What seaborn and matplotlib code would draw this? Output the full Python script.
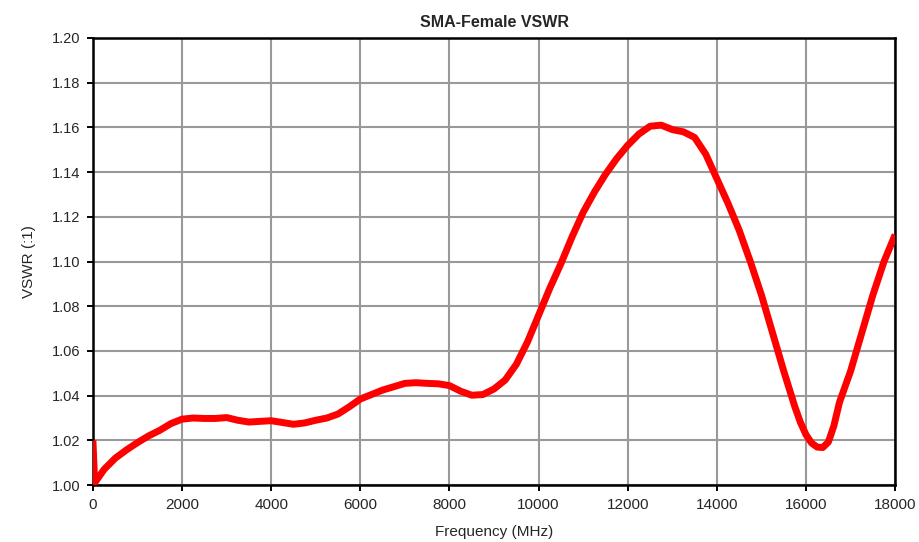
import seaborn as sns
import matplotlib.pyplot as plt
import pandas as pd

# values
freq_mhz = [0, 40, 250, 500, 750, 1000, 1250, 1500, 1750, 2000, 2250, 2500, 2750,
            3000, 3250, 3500, 3750, 4000, 4250, 4500, 4750, 5000, 5250, 5500, 5750,
            6000, 6250, 6500, 6750, 7000, 7250, 7500, 7750, 8000, 8250, 8500, 8750,
            9000, 9250, 9500, 9750, 10000, 10250, 10500, 10750, 11000, 11250, 11500,
            11750, 12000, 12250, 12500, 12750, 13000, 13250, 13500, 13750, 14000,
            14250, 14500, 14750, 15000, 15250, 15500, 15750, 15875, 16000, 16125,
            16250, 16375, 16500, 16625, 16750, 17000, 17250, 17500, 17750, 18000]
vswr = [1.020, 1.001, 1.007, 1.012, 1.0157, 1.019, 1.022, 1.0245, 1.0275, 1.0295,
        1.0300, 1.0298, 1.0298, 1.0302, 1.0290, 1.0282, 1.0285, 1.0288, 1.0280,
        1.0272, 1.0278, 1.0290, 1.0300, 1.0318, 1.0350, 1.0385, 1.0405, 1.0425,
        1.0440, 1.0455, 1.0458, 1.0455, 1.0453, 1.0445, 1.0420, 1.0402, 1.0405,
        1.0430, 1.0470, 1.0540, 1.0640, 1.0760, 1.0880, 1.0990, 1.1110, 1.1220,
        1.1310, 1.1390, 1.1460, 1.1520, 1.1570, 1.1605, 1.1610, 1.1590, 1.1580,
        1.1555, 1.1480, 1.1370, 1.1260, 1.1140, 1.1000, 1.0850, 1.0680, 1.0510,
        1.0350, 1.0280, 1.0225, 1.0188, 1.0170, 1.0168, 1.0192, 1.0265, 1.0370,
        1.0510, 1.0680, 1.0850, 1.1000, 1.1120]

x_ticks = list(range(0, 18001, 2000))
y_ticks = [1.00, 1.02, 1.04, 1.06, 1.08, 1.10, 1.12, 1.14, 1.16, 1.18, 1.20]

df = pd.DataFrame({"Frequency": freq_mhz, "VSWR": vswr})

sns.set_style("white")
plt.rcParams['font.family'] = ['Liberation Sans', 'DejaVu Sans']

fig = plt.figure(figsize=(9.2, 5.42), dpi=100)
ax = fig.add_axes([0.101, 0.105, 0.872, 0.825])

sns.lineplot(data=df, x="Frequency", y="VSWR", color="#ff0000", linewidth=5,
             ax=ax, zorder=3, solid_capstyle="butt", solid_joinstyle="round")

ax.set_xlim(0, 18000)
ax.set_ylim(1.0, 1.2)
ax.set_xticks(x_ticks)
ax.set_yticks(y_ticks)
ax.set_yticklabels([f"{v:.2f}" for v in y_ticks])
ax.grid(True, color="#999999", linewidth=1.5, zorder=0)
ax.set_axisbelow(True)
ax.tick_params(axis="both", direction="out", length=4.3, width=1.4, color="black",
               bottom=True, left=True)
ax.tick_params(axis="y", pad=5, labelsize=10.5)
ax.tick_params(axis="x", pad=5, labelsize=11)
for s in ax.spines.values():
    s.set_color("black")
    s.set_linewidth(1.8)

ax.set_title("SMA-Female VSWR", fontsize=11.5, fontweight="bold", pad=8)
ax.set_xlabel("Frequency (MHz)", fontsize=11, labelpad=9)
ax.set_ylabel("VSWR (:1)", fontsize=11, labelpad=11)

fig.savefig("out.png", dpi=100)
